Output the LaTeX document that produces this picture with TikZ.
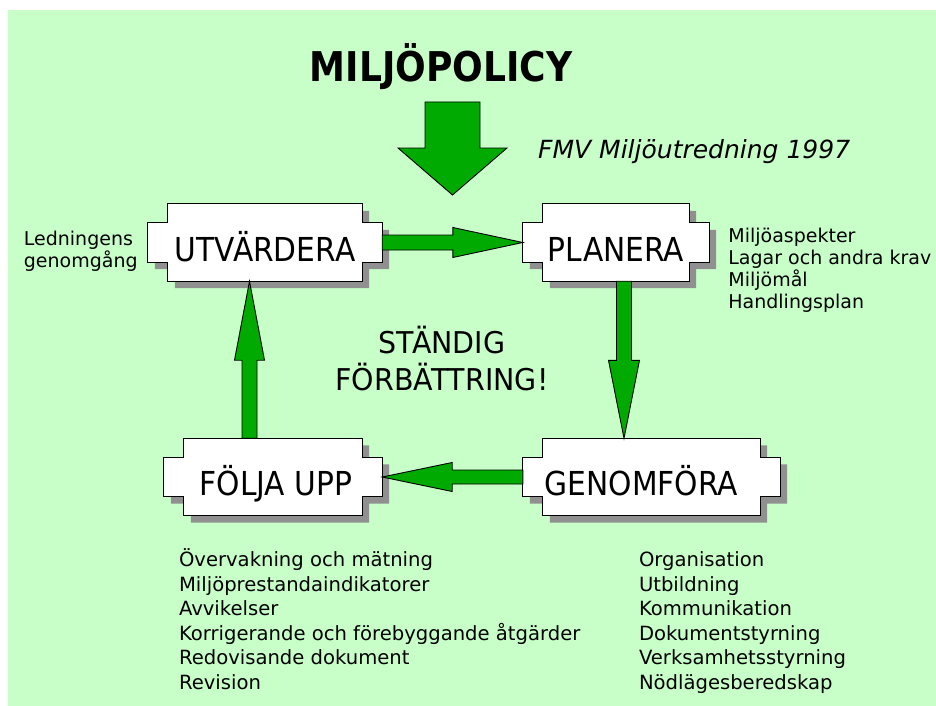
\documentclass[tikz,border=0pt]{standalone}
\usepackage{fontspec}
\setmainfont{DejaVu Sans}
\newfontfamily\stagefont[FakeStretch=0.9]{DejaVu Sans}
\newfontfamily\mottofont[FakeStretch=0.95]{DejaVu Sans}
\newfontfamily\titlefont[FakeStretch=0.88]{DejaVu Sans}
\usetikzlibrary{positioning,calc,backgrounds}

\definecolor{bggreen}{RGB}{200,255,200}
\definecolor{arrowgreen}{RGB}{0,170,0}
\definecolor{shadowgray}{RGB}{144,144,144}

% outline of a stage box, #2 #3 shift it (for the shadow)
\newcommand\plaque[3]{([shift={(20+#2,#3)}]#1.north west)
  -- ([shift={(-20+#2,#3)}]#1.north east) -- ([shift={(-20+#2,19+#3)}]#1.north east)
  -- ([shift={(#2,19+#3)}]#1.north east) -- ([shift={(#2,-19+#3)}]#1.south east)
  -- ([shift={(-20+#2,-19+#3)}]#1.south east) -- ([shift={(-20+#2,#3)}]#1.south east)
  -- ([shift={(20+#2,#3)}]#1.south west) -- ([shift={(20+#2,-19+#3)}]#1.south west)
  -- ([shift={(#2,-19+#3)}]#1.south west) -- ([shift={(#2,19+#3)}]#1.north west)
  -- ([shift={(20+#2,19+#3)}]#1.north west) -- cycle}

% block arrow: shaft half width, head half width, head length, from, to
\newcommand\fatarrow[5]{%
  \filldraw[fatarrow] let \p1=#4, \p2=#5, \n1={atan2(\y2-\y1,\x2-\x1)},
    \n2={veclen(\x2-\x1,\y2-\y1)} in [shift={(\p1)},rotate=\n1]
    (0,-#1) -- (\n2-#3,-#1) -- (\n2-#3,-#2) -- (\n2,0) -- (\n2-#3,#2)
    -- (\n2-#3,#1) -- (0,#1) -- cycle;}

\begin{document}
\begin{tikzpicture}[x=1pt,y=-1pt]
  \tikzstyle{stage}=[minimum height=77pt,inner sep=0pt,text height=37pt,text depth=0pt,
    font=\stagefont\fontsize{33}{40}\selectfont]
  \tikzstyle{notes}=[align=left,inner sep=0pt,font=\fontsize{19.6}{24.5}\selectfont]
  \tikzstyle{fatarrow}=[draw=black,fill=arrowgreen,line width=0.9pt,line join=miter]
  \tikzstyle{boxshadow}=[fill=shadowgray]
  \tikzstyle{boxline}=[draw=black,fill=white,line width=0.9pt]

  \useasboundingbox (0,0) rectangle (936,706);

  \node[anchor=base,inner sep=0pt,font=\titlefont\bfseries\fontsize{41}{48}\selectfont]
    (title) at (441,82) {MILJÖPOLICY};
  \node[anchor=base west,inner sep=0pt,font=\itshape\fontsize{25}{30}\selectfont]
    (source) at (538,158) {FMV Miljöutredning 1997};

  \node[stage,minimum width=234pt] (utv) at (265,242.5) {UTVÄRDERA};
  \node[stage,minimum width=186pt] (pla) at (616,242.5) {PLANERA};
  \node[stage,minimum width=257pt] (gen) at (651.5,477) {GENOMFÖRA\hspace*{20pt}};
  \node[stage,minimum width=218pt] (fol) at (273,477) {\hspace*{6pt}FÖLJA UPP};

  \node[align=center,font=\mottofont\fontsize{30}{37}\selectfont]
    (motto) at (442,359) {STÄNDIG\\FÖRBÄTTRING!};

  \node[notes,left=10pt of utv,yshift=-8.5pt,font=\fontsize{19}{22}\selectfont]
    (review) {Ledningens\\genomgång};
  \node[notes,below right=24.5pt and 19pt of pla.north east,font=\fontsize{19}{22}\selectfont]
    (plan) {Miljöaspekter\\Lagar och andra krav\\Miljömål\\Handlingsplan};
  \node[notes,below right=33pt and 15pt of fol.south west] (check)
    {Övervakning och mätning\\Miljöprestandaindikatorer\\Avvikelser\\
     Korrigerande och förebyggande åtgärder\\Redovisande dokument\\Revision};
  \node[notes,below right=36pt and 116pt of gen.south west] (do)
    {Organisation\\Utbildning\\Kommunikation\\Dokumentstyrning\\
     Verksamhetsstyrning\\Nödlägesberedskap};

  \begin{scope}[on background layer]
    \fill[bggreen] (8,10) rectangle (936,706);
    \foreach \n in {utv,pla,gen,fol}{
      \fill[boxshadow] \plaque{\n}{7}{7};
      \filldraw[boxline] \plaque{\n}{0}{0};
    }
  \end{scope}

  \coordinate (drop) at (452.5,102);
  \coordinate (droptip) at (452.5,195);
  \coordinate (pgtop) at ([xshift=8pt]pla.south);
  \coordinate (fubot) at ([xshift=-23.5pt]fol.north);

  \fatarrow{27.5}{54.5}{47}{(drop)}{(droptip)}
  \fatarrow{7.5}{15}{70}{(utv.east)}{(pla.west)}
  \fatarrow{7.5}{15.5}{78}{(pgtop)}{(pgtop |- gen.north)}
  \fatarrow{7}{14.5}{70}{(gen.west)}{(fol.east)}
  \fatarrow{7.5}{15}{79}{(fubot)}{(fubot |- utv.south)}
\end{tikzpicture}
\end{document}
